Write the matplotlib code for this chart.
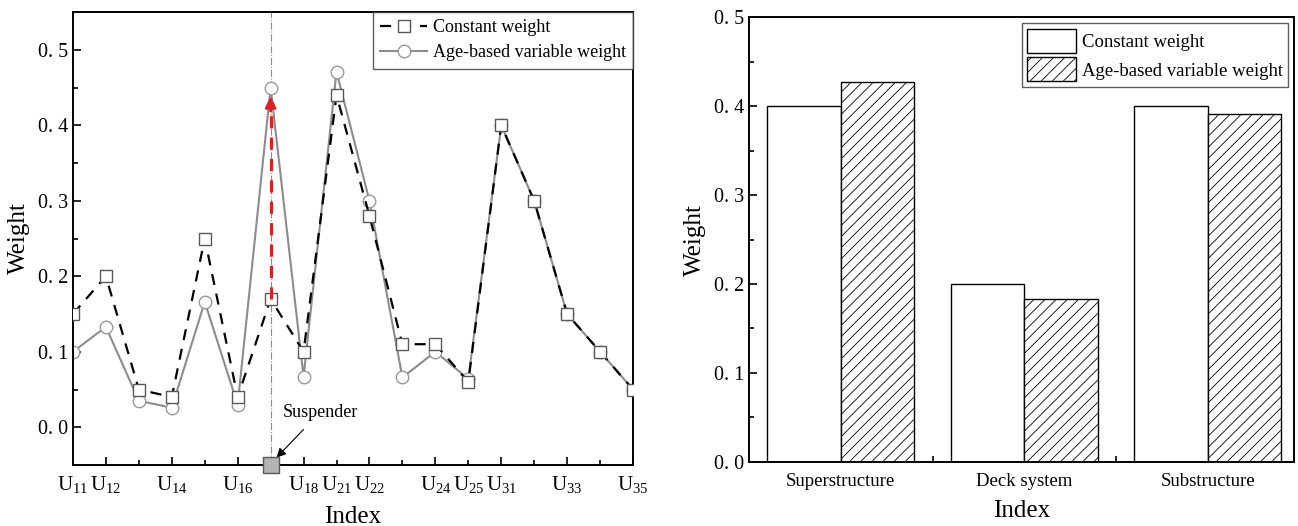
import matplotlib
matplotlib.use('Agg')
import matplotlib.pyplot as plt
from matplotlib.ticker import MultipleLocator, FuncFormatter
import numpy as np

plt.rcParams['font.family'] = ['Liberation Serif', 'DejaVu Serif']
plt.rcParams['mathtext.fontset'] = 'custom'
plt.rcParams['mathtext.rm'] = 'Liberation Serif'
plt.rcParams['hatch.linewidth'] = 0.6

# ---- left panel data (index 6 = suspender)
members = ['U11', 'U12', 'U13', 'U14', 'U15', 'U16', 'U17', 'U18', 'U21', 'U22',
           'U23', 'U24', 'U25', 'U31', 'U32', 'U33', 'U34', 'U35']
shown_labels = ['U11', 'U12', 'U14', 'U16', 'U18', 'U21', 'U22', 'U24', 'U25',
                'U31', 'U33', 'U35']
constant_w = [0.15, 0.20, 0.05, 0.04, 0.25, 0.04, 0.17, 0.10, 0.44, 0.28,
              0.11, 0.11, 0.06, 0.40, 0.30, 0.15, 0.10, 0.05]
age_w = [0.10, 0.133, 0.035, 0.026, 0.166, 0.03, 0.45, 0.067, 0.471, 0.30,
         0.066, 0.10, 0.064, 0.40, 0.30, 0.15, 0.10, 0.05]
suspender = 'U17'

# ---- right panel data
groups = ['Superstructure', 'Deck system', 'Substructure']
group_const = [0.40, 0.20, 0.40]
group_age = [0.427, 0.183, 0.391]

fmt = FuncFormatter(lambda v, p: f"{v:.1f}".replace('.', '. '))

fig = plt.figure(figsize=(12.98, 5.26), dpi=100)
ax1 = fig.add_axes([0.0562, 0.116, 0.4315, 0.861])
ax2 = fig.add_axes([0.577, 0.122, 0.420, 0.845])

x = np.arange(len(members))
si = members.index(suspender)

ax1.axvline(si, color='0.55', lw=0.8, ls='-.', zorder=1)
ax1.plot(x, constant_w, color='black', ls=(0, (5, 4)), lw=1.6,
         marker='s', ms=8, mfc='white', mec='0.35', mew=1.0, zorder=3,
         label='Constant weight')
ax1.plot(x, age_w, color='0.55', ls='-', lw=1.5,
         marker='o', ms=9, mfc='white', mec='0.6', mew=1.0, zorder=2,
         label='Age-based variable weight')

# red arrow from constant to variable weight at suspender
y0, y1 = constant_w[si], age_w[si]
ax1.plot([si, si], [y0, y1 - 0.03], color='#e02020', ls=(0, (4, 3)), lw=2.2, zorder=4)
ax1.annotate('', xy=(si, y1 - 0.008), xytext=(si, y1 - 0.035),
             arrowprops=dict(arrowstyle='-|>', color='#e02020', lw=2,
                             mutation_scale=16), zorder=5)

ax1.set_xlim(0, len(members) - 1)
ax1.set_ylim(-0.05, 0.55)
ax1.plot([si], [-0.05], marker='s', ms=11, mfc='#b4b4b4', mec='0.35',
         mew=1.0, clip_on=False, zorder=6)
ax1.annotate('Suspender', xy=(si + 0.12, -0.043), xytext=(si + 1.5, 0.02),
             fontsize=13, ha='center', va='center',
             arrowprops=dict(arrowstyle='-|>', color='black', lw=0.8,
                             mutation_scale=14, shrinkA=6, shrinkB=2))

ax1.set_xticks(x[1::2])
ax1.set_xticks(x[2::2], minor=True)
ax1.set_xticklabels([])
for lab in shown_labels:
    i = members.index(lab)
    ax1.text(i, -0.02, f'U$_{{{lab[1:]}}}$', transform=ax1.get_xaxis_transform(),
             ha='center', va='top', fontsize=15)
ax1.yaxis.set_major_locator(MultipleLocator(0.1))
ax1.yaxis.set_minor_locator(MultipleLocator(0.05))
ax1.yaxis.set_major_formatter(fmt)
ax1.tick_params(axis='both', which='major', direction='in', length=6, width=1.2,
                labelsize=14.5, top=False, right=False)
ax1.tick_params(axis='both', which='minor', direction='in', length=3.5, width=1.2,
                top=False, right=False)
ax1.set_xlabel('Index', fontsize=18, labelpad=26)
ax1.set_ylabel('Weight', fontsize=18, labelpad=6)
for s in ax1.spines.values():
    s.set_linewidth(1.4)
leg1 = ax1.legend(loc='upper right', fontsize=13, frameon=True, fancybox=False,
                  edgecolor='0.2', borderaxespad=0.0, handlelength=2.6,
                  borderpad=0.4, labelspacing=0.45, handletextpad=0.3)
leg1.get_frame().set_linewidth(1.0)

# ---- right panel
xg = np.arange(len(groups))
w = 0.4
ax2.bar(xg - w / 2, group_const, w, color='white', edgecolor='black', lw=1.0,
        label='Constant weight')
ax2.bar(xg + w / 2, group_age, w, color='white', edgecolor='black', lw=1.0,
        hatch='///', label='Age-based variable weight')
ax2.set_xlim(-0.5, 2.47)
ax2.set_ylim(0, 0.5)
ax2.set_xticks(xg)
ax2.set_xticklabels(groups, fontsize=13.5)
ax2.set_xticks([0.5, 1.5], minor=True)
ax2.yaxis.set_major_locator(MultipleLocator(0.1))
ax2.yaxis.set_minor_locator(MultipleLocator(0.05))
ax2.yaxis.set_major_formatter(fmt)
ax2.tick_params(axis='x', which='major', length=0, pad=8)
ax2.tick_params(axis='x', which='minor', direction='in', length=4, width=1.2)
ax2.tick_params(axis='y', which='major', direction='in', length=6, width=1.2,
                labelsize=14.5)
ax2.tick_params(axis='y', which='minor', direction='in', length=3.5, width=1.2)
ax2.set_xlabel('Index', fontsize=18, labelpad=7)
ax2.set_ylabel('Weight', fontsize=18, labelpad=6)
for s in ax2.spines.values():
    s.set_linewidth(1.4)
leg2 = ax2.legend(loc='upper right', fontsize=13.5, frameon=True, fancybox=False,
                  edgecolor='0.2', borderaxespad=0.3, handlelength=2.6,
                  handleheight=1.6, borderpad=0.3, labelspacing=0.25,
                  handletextpad=0.3)
leg2.get_frame().set_linewidth(1.0)

fig.savefig('out.png', dpi=100)
